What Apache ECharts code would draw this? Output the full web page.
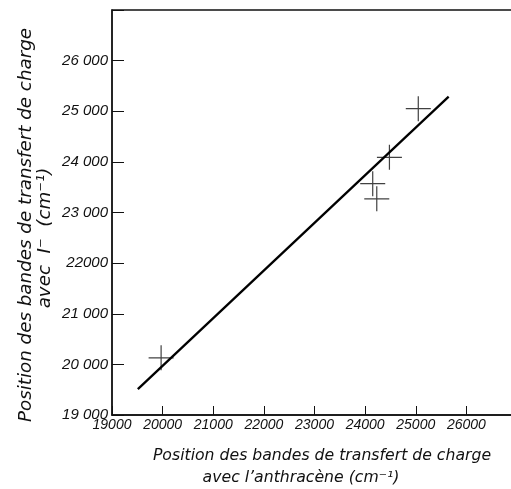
<!DOCTYPE html>
<html>
<head>
<meta charset="utf-8">
<script src="https://cdn.jsdelivr.net/npm/echarts@6/dist/echarts.min.js"></script>
<style>
  html, body { margin: 0; padding: 0; background: #fff; }
  #chart { width: 511px; height: 489px; }
</style>
</head>
<body>
<div id="chart"></div>
<script>
// positions des bandes (cm-1)
const xAnthracene = [19970, 24150, 24230, 24480, 25050]
const yIodide = [20130, 23570, 23270, 24090, 25050]
// droite tracée
const fitX = [19510, 25650]
const fitY = [19510, 25290]
const xTickLabels = ['19000', '20000', '21000', '22000', '23000', '24000', '25000', '26000']
const yTickLabels = ['19 000', '20 000', '21 000', '22000', '23 000', '24 000', '25 000', '26 000']

const xTitleFont = 'italic 15.7px "DejaVu Sans"'
const yTitleFont = 'italic 18.3px "DejaVu Sans"'

const chart = echarts.init(document.getElementById('chart'), null, { renderer: 'canvas' })

chart.setOption({
  animation: false,
  backgroundColor: '#fff',
  grid: {
    left: 112, width: 405, top: 10, bottom: 74,
    outerBoundsMode: 'none',
    show: true, borderColor: '#111', borderWidth: 1.3
  },
  xAxis: {
    type: 'value', min: 19000, max: 27000, interval: 1000,
    axisLine: { lineStyle: { color: '#111', width: 1.5 } },
    axisTick: { inside: true, length: 9, lineStyle: { color: '#111', width: 1 } },
    splitLine: { show: false },
    axisLabel: {
      color: '#111', fontStyle: 'italic', fontFamily: 'Liberation Sans', fontSize: 14, margin: 3,
      formatter: v => xTickLabels[(v - 19000) / 1000] || ''
    }
  },
  yAxis: {
    type: 'value', min: 19000, max: 27000, interval: 1000,
    axisLine: { lineStyle: { color: '#111', width: 1.5 } },
    axisTick: { inside: true, length: 12, lineStyle: { color: '#111', width: 1 } },
    splitLine: { show: false },
    axisLabel: {
      color: '#111', fontStyle: 'italic', fontFamily: 'Liberation Sans', fontSize: 15, margin: 4,
      formatter: v => yTickLabels[(v - 19000) / 1000] || ''
    }
  },
  series: [
    {
      type: 'line',
      data: fitX.map((x, i) => [x, fitY[i]]),
      showSymbol: false,
      lineStyle: { color: '#000', width: 2.3 }
    },
    {
      type: 'scatter',
      data: xAnthracene.map((x, i) => [x, yIodide[i]]),
      symbol: 'path://M0,12L24,12M12,0L12,24',
      symbolSize: 25,
      itemStyle: { color: 'none', borderColor: '#111', borderWidth: 1.2 }
    }
  ],
  graphic: [
    {
      type: 'text', x: 322, y: 456,
      style: { text: 'Position des bandes de transfert de charge', font: xTitleFont, fill: '#111', align: 'center', verticalAlign: 'middle' }
    },
    {
      type: 'text', x: 301, y: 478,
      style: { text: 'avec l’anthracène (cm⁻¹)', font: xTitleFont, fill: '#111', align: 'center', verticalAlign: 'middle' }
    },
    {
      type: 'text', x: 26, y: 225, rotation: Math.PI / 2,
      style: { text: 'Position des bandes de transfert de charge', font: yTitleFont, fill: '#111', align: 'center', verticalAlign: 'middle' }
    },
    {
      type: 'text', x: 45, y: 238, rotation: Math.PI / 2,
      style: { text: 'avec  I⁻  (cm⁻¹)', font: yTitleFont, fill: '#111', align: 'center', verticalAlign: 'middle' }
    }
  ]
})

window.addEventListener('resize', () => chart.resize())
</script>
</body>
</html>
